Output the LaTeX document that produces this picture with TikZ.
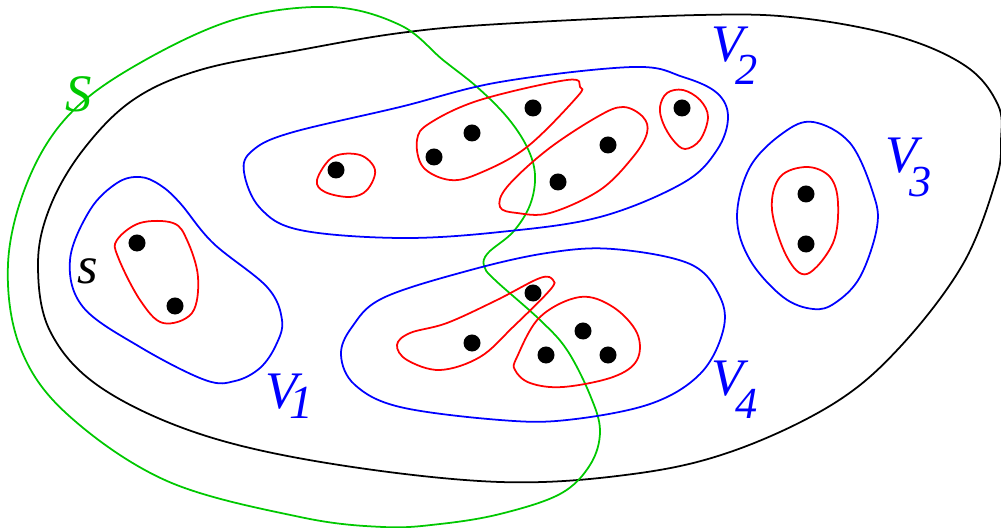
\documentclass[tikz,border=0pt]{standalone}
\usepackage{fontspec}
\setmainfont{Liberation Serif}
\definecolor{sgreen}{RGB}{0,200,0}
\definecolor{vblue}{RGB}{0,0,255}
\definecolor{cred}{RGB}{255,0,0}
\tikzset{
  outer/.style={draw=black,line width=0.5pt},
  scurve/.style={draw=sgreen,line width=0.5pt},
  part/.style={draw=vblue,line width=0.5pt},
  clus/.style={draw=cred,line width=0.5pt},
  vert/.style={circle,fill=black,inner sep=0pt,minimum size=0.17cm},
  lab/.style={inner sep=0pt,anchor=base west,font=\fontsize{15}{15}\selectfont\itshape},
}
\newcommand{\sublab}[3]{V\kern-2.5pt\raisebox{-#2}{\fontsize{#3}{#3}\selectfont #1}}
\begin{document}
\begin{tikzpicture}[x=0.01cm,y=-0.01cm]
\useasboundingbox (0,0) rectangle (1001,528);
% outer black region
\draw[outer] plot[smooth cycle,tension=0.6] coordinates{
 (500,24) (700,15) (800,18) (900,37) (967,67) (998,105) (1001,140) (996,180)
 (963,264) (900,347) (833,404) (733,451) (633,474) (500,482) (333,464)
 (200,434) (100,387) (50,331) (38,264) (50,207) (83,150) (133,100) (200,70)
 (300,50) (400,33)};
% green S
\draw[scurve] plot[smooth cycle,tension=0.6] coordinates{
 (330,7) (400,25) (443,60) (477,87) (507,117) (527,147) (535,175) (530,205)
 (513,232) (488,253) (484,266) (495,280) (540,320) (567,350) (590,395)
 (600,431) (590,465) (560,494) (500,514) (440,524) (383,527) (300,517)
 (167,481) (67,414) (20,347) (8,264) (27,183) (67,117) (133,67) (233,20)};
% V1
\draw[part] plot[smooth cycle,tension=0.6] coordinates{
 (140,177) (160,185) (180,203) (213,243) (267,287) (282,320) (276,345)
 (260,368) (235,381) (205,380) (140,347) (83,307) (70,260) (90,210) (117,183)};
\draw[clus] plot[smooth cycle,tension=0.6] coordinates{
 (117,240) (140,223) (173,223) (187,240) (198,277) (192,313) (163,323)
 (140,300) (118,257)};
% V2
\draw[part] plot[smooth cycle,tension=0.6] coordinates{
 (244,172) (252,151) (290,133) (400,107) (500,82) (633,67) (683,77)
 (717,93) (728,117) (717,150) (683,183) (600,217) (500,232) (400,238)
 (300,230) (260,208)};
\draw[clus] plot[smooth cycle,tension=0.6] coordinates{
 (317,180) (333,157) (360,155) (375,170) (367,190) (350,197) (325,192)};
\draw[clus] plot[smooth cycle,tension=0.6] coordinates{
 (417,140) (430,123) (480,100) (567,80) (580,87) (577,97) (527,147)
 (480,173) (450,180) (423,167)};
\draw[clus] plot[smooth cycle,tension=0.6] coordinates{
 (500,207) (507,187) (547,150) (597,117) (623,107) (643,117) (647,133)
 (633,157) (600,190) (550,213) (517,213)};
\draw[clus] plot[smooth cycle,tension=0.6] coordinates{
 (660,107) (667,93) (683,90) (700,100) (708,117) (700,140) (685,149)
 (673,140) (663,123)};
% V3
\draw[part] plot[smooth cycle,tension=0.6] coordinates{
 (813,122) (850,143) (873,193) (877,227) (860,277) (835,303) (813,309)
 (783,297) (750,260) (737,217) (750,167) (783,133)};
\draw[clus] plot[smooth cycle,tension=0.6] coordinates{
 (807,167) (830,177) (838,203) (833,243) (807,274) (787,257) (772,210)
 (780,177)};
% V4
\draw[part] plot[smooth cycle,tension=0.6] coordinates{
 (341,355) (352,327) (383,298) (467,271) (547,253) (613,249) (690,264)
 (720,297) (723,331) (700,374) (650,404) (567,420) (500,420) (400,407)
 (355,385)};
\draw[clus] plot[smooth cycle,tension=0.6] coordinates{
 (397,345) (410,333) (447,323) (497,300) (540,278) (553,280) (550,290)
 (513,327) (480,357) (440,370) (407,360)};
\draw[clus] plot[smooth cycle,tension=0.6] coordinates{
 (517,357) (540,317) (580,297) (613,307) (637,333) (637,360) (613,377)
 (563,387) (530,383) (515,370)};
% vertices
\node[vert] (a1) at (137,243) {};
\node[vert] (a2) at (175,306) {};
\node[vert] (b1) at (336,170) {};
\node[vert] (b2) at (434,157) {};
\node[vert] (b3) at (472,133) {};
\node[vert] (b4) at (533,108) {};
\node[vert] (b5) at (558,182) {};
\node[vert] (b6) at (608,145) {};
\node[vert] (b7) at (682,108) {};
\node[vert] (c1) at (806,194) {};
\node[vert] (c2) at (806,244) {};
\node[vert] (d1) at (472,343) {};
\node[vert] (d2) at (533,293) {};
\node[vert] (d3) at (546,355) {};
\node[vert] (d4) at (583,331) {};
\node[vert] (d5) at (608,355) {};
% labels
\node[lab,text=sgreen] (lS) at (65,112) {S};
\node[lab,text=black] (ls) at (77,284) {s};
\node[lab,text=vblue] (lV1) at (265,409) {\sublab{1}{2.8pt}{13.5}};
\node[lab,text=vblue] (lV2) at (711,62) {\sublab{2}{6.5pt}{12.6}};
\node[lab,text=vblue] (lV3) at (885,173) {\sublab{3}{6.8pt}{12.6}};
\node[lab,text=vblue] (lV4) at (711,396) {\sublab{4}{6.5pt}{12.6}};
\end{tikzpicture}
\end{document}
